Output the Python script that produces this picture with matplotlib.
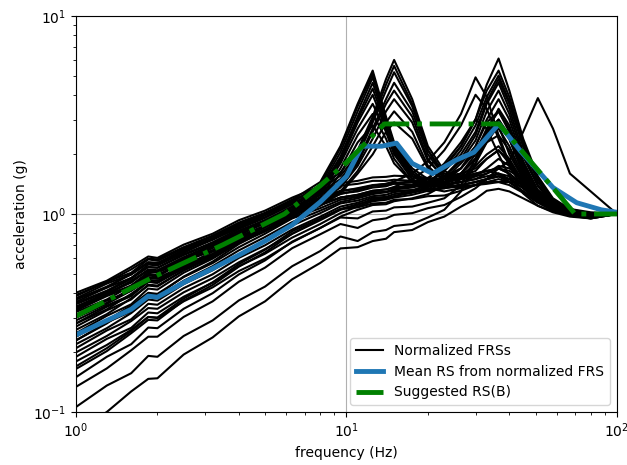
import matplotlib
matplotlib.use("Agg")
import matplotlib.pyplot as plt

# fréquences communes des spectres normalisés (Hz)
freq = [1.0, 1.3, 1.6, 1.85, 2.0, 2.5, 3.2, 4.0, 5.0, 6.3, 8.0, 9.5, 11.0, 12.5, 14.0,
        15.0, 17.5, 20.0, 23.0, 26.5, 30.0, 33.0, 36.5, 40.0, 45.0, 51.0, 58.0, 67.0, 80.0, 100.0]

# spectres avec pic vers 12.5 Hz
frs_peak12 = [
    [0.37, 0.425, 0.50, 0.57, 0.565, 0.66, 0.755, 0.885, 1.0, 1.18, 1.45, 2.2, 3.6, 5.3, 3.1, 2.3, 1.7, 1.5, 1.5, 1.6, 1.7, 1.9, 2.1, 1.8, 1.45, 1.25, 1.12, 1.04, 1.0, 1.0],
    [0.36, 0.425, 0.475, 0.555, 0.55, 0.635, 0.75, 0.85, 0.99, 1.15, 1.4, 2.15, 3.5, 5.1, 3.0, 2.25, 1.65, 1.45, 1.45, 1.55, 1.8, 2.3, 2.8, 2.0, 1.5, 1.2, 1.08, 1.02, 0.99, 1.0],
    [0.35, 0.405, 0.47, 0.54, 0.535, 0.625, 0.72, 0.84, 0.955, 1.12, 1.36, 2.05, 3.3, 4.9, 3.0, 2.2, 1.6, 1.42, 1.4, 1.45, 1.55, 1.7, 1.9, 1.75, 1.45, 1.22, 1.1, 1.03, 0.98, 1.0],
    [0.34, 0.4, 0.45, 0.525, 0.52, 0.605, 0.7, 0.815, 0.93, 1.09, 1.33, 1.95, 3.1, 4.6, 2.9, 2.15, 1.6, 1.45, 1.45, 1.5, 1.6, 1.65, 1.6, 1.45, 1.3, 1.15, 1.06, 1.0, 0.97, 1.0],
    [0.335, 0.39, 0.455, 0.52, 0.51, 0.59, 0.7, 0.795, 0.925, 1.06, 1.31, 1.9, 3.0, 4.3, 2.8, 2.1, 1.55, 1.45, 1.5, 1.7, 2.2, 2.9, 3.3, 2.6, 1.7, 1.3, 1.1, 1.02, 0.98, 1.0],
    [0.33, 0.39, 0.435, 0.51, 0.505, 0.58, 0.685, 0.78, 0.905, 1.04, 1.28, 1.85, 2.9, 4.0, 2.7, 2.05, 1.55, 1.4, 1.35, 1.4, 1.45, 1.5, 1.55, 1.5, 1.35, 1.2, 1.08, 1.01, 0.97, 1.0],
    [0.32, 0.37, 0.435, 0.495, 0.49, 0.575, 0.655, 0.77, 0.875, 1.03, 1.25, 1.8, 2.7, 3.6, 2.6, 2.0, 1.5, 1.38, 1.4, 1.6, 2.0, 2.5, 2.7, 2.2, 1.55, 1.22, 1.07, 1.0, 0.98, 1.0],
    [0.31, 0.365, 0.41, 0.48, 0.475, 0.545, 0.645, 0.735, 0.86, 0.985, 1.22, 1.7, 2.5, 3.2, 2.4, 1.9, 1.45, 1.35, 1.3, 1.35, 1.4, 1.45, 1.5, 1.45, 1.3, 1.15, 1.05, 1.0, 0.96, 1.0],
    [0.30, 0.352, 0.41, 0.465, 0.46, 0.54, 0.615, 0.725, 0.825, 0.965, 1.18, 1.6, 2.3, 2.8, 2.2, 1.8, 1.45, 1.3, 1.35, 1.5, 1.75, 2.0, 2.2, 1.9, 1.45, 1.18, 1.06, 1.0, 0.98, 1.0],
]

# spectres avec pic vers 15 Hz
frs_peak15 = [
    [0.40, 0.46, 0.54, 0.61, 0.6, 0.70, 0.795, 0.93, 1.04, 1.21, 1.38, 1.62, 2.1, 3.1, 4.8, 6.0, 3.8, 2.2, 1.65, 1.5, 1.55, 1.6, 1.7, 1.6, 1.4, 1.2, 1.08, 1.02, 0.99, 1.0],
    [0.385, 0.455, 0.505, 0.59, 0.58, 0.67, 0.77, 0.89, 1.0, 1.17, 1.34, 1.56, 2.0, 3.0, 4.5, 5.6, 3.6, 2.1, 1.6, 1.55, 1.65, 1.9, 2.1, 1.85, 1.45, 1.22, 1.08, 1.02, 0.98, 1.0],
    [0.37, 0.43, 0.495, 0.565, 0.555, 0.645, 0.74, 0.855, 0.965, 1.12, 1.29, 1.5, 1.95, 2.9, 4.2, 5.2, 3.5, 2.1, 1.55, 1.45, 1.5, 1.55, 1.6, 1.5, 1.35, 1.18, 1.06, 1.0, 0.97, 1.0],
    [0.355, 0.41, 0.475, 0.54, 0.535, 0.62, 0.71, 0.825, 0.93, 1.08, 1.25, 1.45, 1.85, 2.7, 3.8, 4.6, 3.3, 2.0, 1.55, 1.6, 1.9, 2.5, 2.9, 2.4, 1.6, 1.22, 1.07, 1.0, 0.97, 1.0],
    [0.34, 0.395, 0.46, 0.52, 0.515, 0.60, 0.685, 0.795, 0.895, 1.04, 1.2, 1.4, 1.8, 2.6, 3.6, 4.2, 3.1, 1.9, 1.5, 1.4, 1.45, 1.5, 1.55, 1.45, 1.3, 1.15, 1.05, 0.99, 0.96, 1.0],
    [0.325, 0.385, 0.43, 0.5, 0.49, 0.575, 0.655, 0.765, 0.865, 1.01, 1.17, 1.36, 1.75, 2.4, 3.3, 3.8, 2.9, 1.85, 1.55, 1.7, 2.1, 2.6, 3.0, 2.5, 1.65, 1.25, 1.08, 1.01, 0.98, 1.0],
    [0.305, 0.355, 0.415, 0.475, 0.47, 0.545, 0.625, 0.735, 0.835, 0.975, 1.13, 1.3, 1.65, 2.2, 2.9, 3.3, 2.6, 1.75, 1.45, 1.35, 1.4, 1.45, 1.45, 1.4, 1.28, 1.14, 1.04, 0.99, 0.96, 1.0],
    [0.29, 0.345, 0.39, 0.455, 0.45, 0.53, 0.605, 0.715, 0.815, 0.955, 1.1, 1.27, 1.6, 2.0, 2.6, 2.9, 2.4, 1.7, 1.5, 1.6, 1.9, 2.3, 2.5, 2.1, 1.5, 1.2, 1.06, 1.0, 0.97, 1.0],
]

# spectres avec pic vers 36 Hz
frs_peak36 = [
    [0.26, 0.312, 0.375, 0.435, 0.43, 0.52, 0.612, 0.74, 0.86, 1.04, 1.17, 1.27, 1.3, 1.36, 1.38, 1.43, 1.45, 1.52, 1.75, 2.2, 3.0, 4.5, 6.1, 4.2, 2.4, 1.55, 1.2, 1.06, 1.0, 1.0],
    [0.25, 0.306, 0.35, 0.42, 0.415, 0.505, 0.595, 0.715, 0.83, 0.99, 1.11, 1.21, 1.25, 1.31, 1.33, 1.36, 1.4, 1.5, 1.8, 2.3, 3.0, 4.2, 5.3, 3.9, 2.3, 1.5, 1.18, 1.05, 0.99, 1.0],
    [0.24, 0.29, 0.345, 0.40, 0.395, 0.48, 0.565, 0.68, 0.795, 0.95, 1.07, 1.18, 1.22, 1.28, 1.29, 1.33, 1.36, 1.42, 1.65, 2.1, 2.8, 3.9, 5.0, 3.7, 2.2, 1.45, 1.15, 1.04, 0.98, 1.0],
    [0.23, 0.283, 0.322, 0.385, 0.38, 0.46, 0.545, 0.655, 0.765, 0.91, 1.04, 1.15, 1.2, 1.26, 1.29, 1.34, 1.38, 1.46, 1.65, 2.0, 2.6, 3.7, 4.8, 3.6, 2.2, 1.5, 1.17, 1.04, 0.97, 1.0],
    [0.22, 0.265, 0.316, 0.37, 0.365, 0.442, 0.52, 0.625, 0.73, 0.875, 1.01, 1.13, 1.17, 1.23, 1.25, 1.29, 1.32, 1.39, 1.55, 1.9, 2.5, 3.6, 4.6, 3.4, 2.05, 1.4, 1.14, 1.03, 0.97, 1.0],
    [0.21, 0.258, 0.294, 0.352, 0.348, 0.422, 0.496, 0.6, 0.695, 0.835, 0.97, 1.09, 1.14, 1.21, 1.22, 1.26, 1.3, 1.36, 1.55, 1.85, 2.35, 3.3, 4.2, 3.2, 1.95, 1.38, 1.12, 1.02, 0.96, 1.0],
    [0.20, 0.242, 0.288, 0.335, 0.332, 0.402, 0.474, 0.57, 0.665, 0.795, 0.93, 1.05, 1.11, 1.19, 1.2, 1.23, 1.28, 1.33, 1.5, 1.8, 2.2, 3.0, 3.8, 3.0, 1.85, 1.32, 1.1, 1.01, 0.96, 1.0],
    [0.19, 0.234, 0.266, 0.318, 0.315, 0.382, 0.45, 0.545, 0.63, 0.76, 0.89, 1.01, 1.09, 1.16, 1.18, 1.21, 1.25, 1.31, 1.45, 1.7, 2.05, 2.7, 3.3, 2.7, 1.75, 1.27, 1.08, 1.0, 0.96, 1.0],
    [0.18, 0.218, 0.26, 0.302, 0.298, 0.362, 0.426, 0.515, 0.595, 0.72, 0.85, 0.97, 1.05, 1.11, 1.12, 1.16, 1.2, 1.26, 1.4, 1.6, 1.9, 2.4, 2.8, 2.4, 1.65, 1.22, 1.06, 0.99, 0.95, 1.0],
]

# spectres avec pic vers 30 Hz
frs_peak30 = [
    [0.27, 0.326, 0.37, 0.44, 0.435, 0.518, 0.605, 0.72, 0.828, 0.99, 1.14, 1.26, 1.32, 1.39, 1.42, 1.46, 1.6, 1.85, 2.3, 3.2, 4.9, 3.9, 2.5, 1.8, 1.4, 1.18, 1.08, 1.02, 0.98, 1.0],
    [0.23, 0.28, 0.34, 0.395, 0.39, 0.483, 0.575, 0.705, 0.825, 0.99, 1.11, 1.21, 1.25, 1.31, 1.33, 1.37, 1.5, 1.7, 2.1, 2.8, 4.0, 3.4, 2.4, 1.75, 1.35, 1.15, 1.06, 1.01, 0.97, 1.0],
    [0.17, 0.21, 0.256, 0.302, 0.3, 0.374, 0.452, 0.558, 0.66, 0.818, 0.95, 1.06, 1.12, 1.17, 1.2, 1.23, 1.3, 1.42, 1.7, 2.2, 3.0, 2.7, 2.0, 1.55, 1.27, 1.1, 1.03, 0.99, 0.96, 1.0],
]

# spectre avec pic vers 51 Hz
frs_peak51 = [
    [0.28, 0.33, 0.395, 0.455, 0.45, 0.538, 0.628, 0.745, 0.858, 1.02, 1.19, 1.3, 1.35, 1.4, 1.42, 1.44, 1.45, 1.45, 1.5, 1.55, 1.6, 1.65, 1.7, 1.85, 2.6, 3.85, 2.7, 1.6, 1.3, 1.0],
]

# spectres sans pic marqué
frs_flat = [
    [0.39, 0.452, 0.525, 0.595, 0.59, 0.68, 0.778, 0.905, 1.015, 1.18, 1.32, 1.43, 1.47, 1.53, 1.54, 1.56, 1.55, 1.52, 1.5, 1.52, 1.58, 1.65, 1.7, 1.65, 1.5, 1.32, 1.15, 1.05, 1.0, 1.0],
    [0.375, 0.445, 0.495, 0.57, 0.565, 0.655, 0.75, 0.87, 0.985, 1.14, 1.29, 1.39, 1.42, 1.47, 1.47, 1.49, 1.47, 1.45, 1.42, 1.45, 1.5, 1.6, 1.75, 1.7, 1.5, 1.3, 1.15, 1.06, 1.02, 1.0],
    [0.30, 0.355, 0.422, 0.49, 0.482, 0.575, 0.672, 0.8, 0.92, 1.09, 1.21, 1.31, 1.34, 1.39, 1.39, 1.42, 1.41, 1.4, 1.38, 1.4, 1.45, 1.5, 1.55, 1.5, 1.4, 1.25, 1.12, 1.04, 0.99, 1.0],
    [0.28, 0.34, 0.385, 0.455, 0.45, 0.538, 0.628, 0.748, 0.858, 1.01, 1.12, 1.21, 1.24, 1.29, 1.29, 1.31, 1.32, 1.33, 1.35, 1.38, 1.4, 1.42, 1.45, 1.45, 1.42, 1.3, 1.15, 1.05, 1.0, 1.0],
]

# spectres bas en basse fréquence
frs_low = [
    [0.165, 0.203, 0.25, 0.292, 0.29, 0.365, 0.438, 0.542, 0.64, 0.795, 0.94, 1.06, 1.08, 1.13, 1.14, 1.18, 1.19, 1.23, 1.24, 1.31, 1.4, 1.5, 1.6, 1.55, 1.4, 1.22, 1.1, 1.02, 0.97, 1.0],
    [0.15, 0.19, 0.22, 0.267, 0.265, 0.332, 0.398, 0.495, 0.583, 0.725, 0.85, 0.96, 0.95, 1.03, 1.04, 1.08, 1.09, 1.14, 1.2, 1.4, 1.9, 2.6, 3.4, 2.8, 1.8, 1.28, 1.08, 1.0, 0.96, 1.0],
    [0.134, 0.166, 0.205, 0.24, 0.24, 0.302, 0.362, 0.455, 0.536, 0.672, 0.79, 0.89, 0.85, 0.93, 0.95, 0.99, 1.01, 1.07, 1.11, 1.22, 1.35, 1.5, 1.7, 1.6, 1.4, 1.2, 1.07, 1.0, 0.96, 1.0],
    [0.106, 0.136, 0.157, 0.192, 0.19, 0.242, 0.29, 0.366, 0.43, 0.545, 0.65, 0.77, 0.73, 0.81, 0.83, 0.87, 0.89, 0.96, 1.05, 1.3, 1.8, 2.5, 3.0, 2.4, 1.6, 1.2, 1.05, 0.98, 0.95, 1.0],
    [0.08, 0.1, 0.127, 0.147, 0.148, 0.195, 0.238, 0.304, 0.362, 0.468, 0.566, 0.67, 0.68, 0.73, 0.75, 0.81, 0.83, 0.91, 0.97, 1.09, 1.19, 1.31, 1.34, 1.3, 1.2, 1.1, 1.02, 0.97, 0.95, 1.0],
]

# spectre moyen
mean_freq = [1.0, 1.3, 1.6, 1.85, 2.0, 2.5, 3.2, 4.0, 5.0, 6.3, 8.0, 10.0, 11.4, 13.5, 15.3,
             17.5, 20.8, 25.4, 29.6, 36.6, 44.0, 58.0, 71.0, 87.5, 100.0]
mean_acc = [0.245, 0.29, 0.33, 0.385, 0.38, 0.45, 0.53, 0.62, 0.73, 0.88, 1.15, 1.55, 2.2, 2.2,
            2.28, 1.8, 1.6, 1.87, 2.05, 2.85, 2.08, 1.36, 1.14, 1.05, 1.02]

# spectre proposé RS(B)
sugg_freq = [1.0, 1.9, 3.5, 5.9, 8.0, 10.0, 13.8, 36.6, 70.0, 100.0]
sugg_acc = [0.305, 0.475, 0.7, 1.0, 1.39, 1.82, 2.85, 2.85, 1.0, 1.0]

all_frs = frs_peak12 + frs_peak15 + frs_peak36 + frs_peak30 + frs_peak51 + frs_flat + frs_low

fig = plt.figure(figsize=(6.27, 4.65), dpi=100)
ax = fig.add_axes([0.1212, 0.114, 0.8628, 0.8516])

for i, row in enumerate(all_frs):
    ax.plot(freq, row, color="black", lw=1.5,
            label="Normalized FRSs" if i == 0 else None)
ax.plot(mean_freq, mean_acc, color="tab:blue", lw=3.5,
        label="Mean RS from normalized FRS")
ax.plot(sugg_freq, sugg_acc, color="green", lw=3.5, ls="-.",
        label="Suggested RS(B)")

ax.set_xscale("log")
ax.set_yscale("log")
ax.set_xlim(1, 100)
ax.set_ylim(0.1, 10)
ax.set_xlabel("frequency (Hz)")
ax.set_ylabel("acceleration (g)")
ax.grid(True)
ax.legend(loc="lower right")

fig.savefig("out.png", dpi=100)
